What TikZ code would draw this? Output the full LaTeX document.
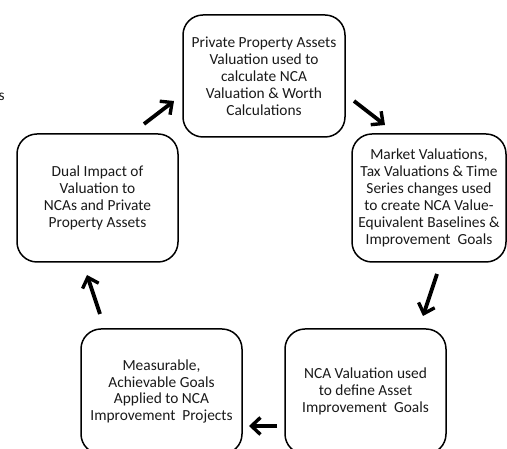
\documentclass[tikz,border=0pt]{standalone}
\usepackage{fontspec}
\setmainfont{Carlito}
\usetikzlibrary{arrows.meta}
\begin{document}
\begin{tikzpicture}[x=1pt,y=1pt,
  box/.style={draw=black, line width=1.5pt, rounded corners=20pt, align=center,
    inner sep=0pt, font=\fontsize{15.4}{16.9}\selectfont, text=black!90},
  flow/.style={line width=3.8pt, -{Straight Barb[length=9pt,width=17pt,line width=3.4pt]}}]
\useasboundingbox (0,0) rectangle (507,449);
% boxes (y measured from top: y = 449 - ypx)
\node[box, minimum width=162pt, minimum height=122pt] (top) at (264,{449-76})
  {Private Property Assets\\Valuation used to\\calculate NCA\\Valuation \& Worth\\Calculations};
\node[box, minimum width=154pt, minimum height=128pt] (right) at (429,{449-198})
  {Market Valuations,\\Tax Valuations \& Time\\Series changes used\\to create NCA Value-\\Equivalent Baselines \&\\Improvement\ \ Goals};
\node[box, minimum width=161pt, minimum height=125pt] (bright) at (365.5,{449-391.5})
  {NCA Valuation used\\to define Asset\\Improvement\ \ Goals};
\node[box, minimum width=161pt, minimum height=125pt] (bleft) at (161.5,{449-391.5})
  {Measurable,\\Achievable Goals\\Applied to NCA\\Improvement\ \ Projects};
\node[box, minimum width=161pt, minimum height=128pt] (left) at (97.5,{449-198})
  {Dual Impact of\\Valuation to\\NCAs and Private\\Property Assets};
\node[anchor=base west, inner sep=0pt, font=\fontsize{15.4}{16.9}\selectfont, text=black!90] (frag) at (-1.5,{449-101}) {s};
% arrow ends
\coordinate (a1s) at (144,{449-124});
\coordinate (a1e) at (174,{449-101});
\coordinate (a2s) at (354,{449-101});
\coordinate (a2e) at (385,{449-125});
\coordinate (a3s) at (437,{449-274});
\coordinate (a3e) at (423,{449-316});
\coordinate (a4s) at (277,{449-426});
\coordinate (a4e) at (249,{449-426});
\coordinate (a5s) at (100,{449-314});
\coordinate (a5e) at (87,{449-275});
\draw[flow] (a1s) -- (a1e);
\draw[flow] (a2s) -- (a2e);
\draw[flow] (a3s) -- (a3e);
\draw[flow] (a4s) -- (a4e);
\draw[flow] (a5s) -- (a5e);
\end{tikzpicture}
\end{document}
